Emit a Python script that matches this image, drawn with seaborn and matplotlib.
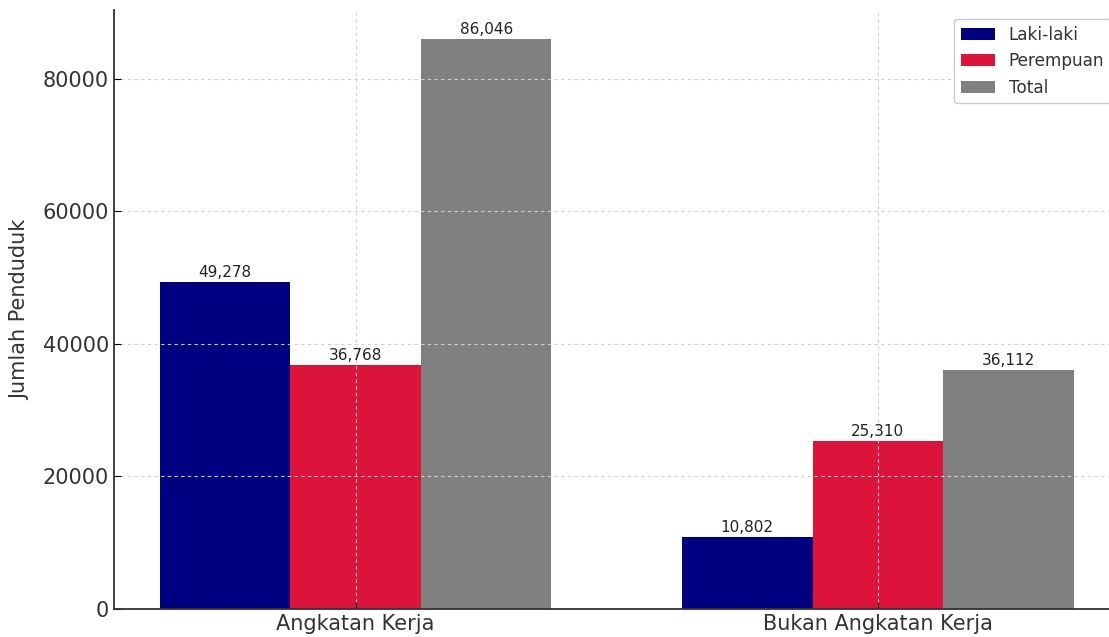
import pandas as pd
import matplotlib
matplotlib.use("Agg")
import matplotlib.pyplot as plt
import seaborn as sns

# data
categories = ["Angkatan Kerja", "Bukan Angkatan Kerja"]
laki_laki = [49278, 10802]
perempuan = [36768, 25310]
total = [86046, 36112]

series_names = ["Laki-laki", "Perempuan", "Total"]
colors = {"Laki-laki": "#000080", "Perempuan": "#DC143C", "Total": "#808080"}

df = pd.DataFrame({
    "Kategori": categories,
    "Laki-laki": laki_laki,
    "Perempuan": perempuan,
    "Total": total,
})
long_df = df.melt(id_vars="Kategori", var_name="Jenis", value_name="Jumlah")

fig = plt.figure(figsize=(11.09, 6.37), dpi=100)
# the reference is a crop: the axes run slightly past the right and top edges
ax = fig.add_axes([0.1028, 0.044, 0.9066, 0.9397])

sns.barplot(
    data=long_df, x="Kategori", y="Jumlah", hue="Jenis",
    hue_order=series_names, palette=colors, width=0.75,
    saturation=1, errorbar=None, ax=ax,
)

for container in ax.containers:
    ax.bar_label(container, fmt="{:,.0f}", fontsize=11, padding=1.5,
                 color="#222222")

ax.set_xlim(-0.4625, 1.4625)
ax.set_ylim(0, 90348)
ax.set_xlabel("")
ax.set_ylabel("Jumlah Penduduk", fontsize=15, color="#333333")
ax.yaxis.set_label_coords(-0.083, 0.5)
ax.tick_params(axis="both", labelsize=15, direction="in", length=5,
               labelcolor="#333333")
ax.grid(True, linestyle=(0, (3, 3)), color="#d0d0d0", linewidth=0.8)
for side in ["top", "right"]:
    ax.spines[side].set_visible(False)
for side in ["left", "bottom"]:
    ax.spines[side].set_linewidth(1.3)
    ax.spines[side].set_color("#333333")

leg = ax.legend(loc="upper right", fontsize=12.2, title=None, framealpha=1,
                edgecolor="#cccccc")
for txt in leg.get_texts():
    txt.set_color("#333333")

fig.savefig("out.png", dpi=100)
